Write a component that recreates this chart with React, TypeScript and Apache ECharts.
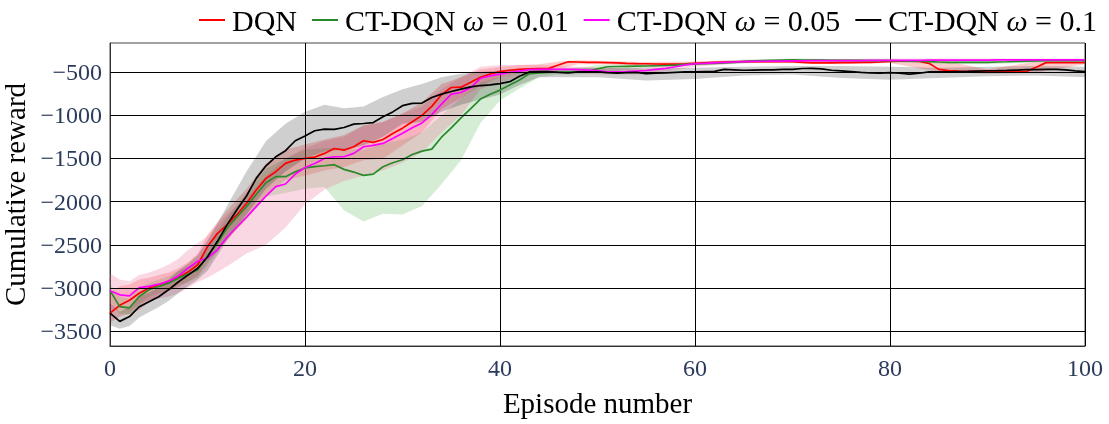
import React, { useEffect, useRef } from 'react';
import * as echarts from 'echarts';

// ---------- data ----------
const seriesNames = ['DQN', 'CT-DQN ω = 0.01', 'CT-DQN ω = 0.05', 'CT-DQN ω = 0.1'];
const xTicks = [0, 20, 40, 60, 80, 100];
const yTicks = [-3500, -3000, -2500, -2000, -1500, -1000, -500];

const dqn = [
  -3290, -3200, -3140, -3060, -3000, -2962, -2923, -2877, -2815, -2730,
  -2520, -2370, -2269, -2154, -2019, -1865, -1731, -1654, -1558, -1519,
  -1500, -1485, -1442, -1385, -1404, -1365, -1296, -1315, -1281, -1212,
  -1150, -1075, -1002, -898, -764, -680, -676, -619, -561, -523,
  -496, -480, -470, -465, -460, -458, -420, -382, -385, -388,
  -390, -393, -396, -400, -403, -405, -408, -410, -410, -406,
  -400, -395, -390, -385, -382, -380, -380, -380, -380, -380,
  -382, -390, -395, -395, -395, -392, -392, -390, -388, -385,
  -378, -376, -376, -378, -400, -470, -484, -490, -492, -494,
  -496, -498, -500, -500, -495, -446, -392, -392, -392, -392,
  -392,
];
const ctdqn001 = [
  -3030, -3214, -3228, -3098, -3020, -2982, -2943, -2885, -2839, -2789,
  -2630, -2481, -2308, -2181, -2058, -1915, -1781, -1711, -1711, -1654,
  -1610, -1596, -1585, -1573, -1627, -1658, -1696, -1681, -1596, -1550,
  -1515, -1454, -1416, -1393, -1255, -1147, -1032, -925, -814, -757,
  -710, -650, -593, -520, -510, -505, -502, -500, -498, -490,
  -465, -440, -437, -435, -433, -431, -428, -425, -420, -412,
  -407, -403, -400, -395, -388, -380, -372, -368, -365, -362,
  -361, -362, -363, -364, -365, -366, -366, -367, -368, -368,
  -370, -372, -374, -376, -380, -385, -388, -390, -390, -390,
  -388, -385, -382, -378, -375, -372, -370, -370, -370, -370,
  -370,
];
const ctdqn005 = [
  -3030, -3078, -3090, -2995, -2980, -2955, -2920, -2860, -2770, -2690,
  -2650, -2560, -2412, -2296, -2181, -2058, -1935, -1827, -1796, -1681,
  -1605, -1558, -1500, -1481, -1481, -1442, -1365, -1350, -1327, -1269,
  -1208, -1145, -1090, -994, -872, -757, -738, -680, -573, -546,
  -525, -505, -490, -472, -469, -469, -469, -469, -472, -478,
  -485, -498, -500, -497, -490, -483, -470, -458, -440, -418,
  -405, -400, -394, -390, -385, -380, -378, -376, -375, -374,
  -372, -371, -370, -370, -369, -369, -368, -368, -367, -367,
  -366, -366, -365, -365, -364, -364, -363, -363, -362, -362,
  -362, -361, -361, -361, -360, -360, -360, -360, -360, -360,
  -360,
];
const ctdqn01 = [
  -3290, -3385, -3330, -3216, -3158, -3100, -3020, -2930, -2850, -2770,
  -2640, -2462, -2269, -2096, -1935, -1731, -1585, -1481, -1411, -1296,
  -1240, -1180, -1162, -1165, -1142, -1104, -1096, -1085, -1019, -962,
  -890, -864, -860, -795, -757, -726, -699, -672, -657, -649,
  -635, -612, -550, -500, -496, -496, -505, -512, -500, -498,
  -500, -508, -515, -508, -505, -520, -515, -510, -505, -500,
  -500, -496, -493, -470, -475, -480, -478, -476, -475, -470,
  -469, -460, -458, -465, -480, -487, -495, -505, -512, -513,
  -508, -515, -525, -515, -500, -500, -498, -496, -494, -490,
  -486, -485, -482, -478, -474, -472, -470, -469, -475, -488,
  -496,
];

// shaded bands (upper / lower), sampled at bandEpisodes
const bandEpisodes = [0, 1, 2, 3, 4, 5, 6, 7, 8, 9, 10, 12, 14, 16, 18, 20, 22, 24, 26, 28, 30, 32, 34, 36, 38, 40, 42, 44, 46, 48, 50, 55, 60, 65, 70, 75, 80, 85, 90, 95, 100];
const dqnHi = [-3050, -2980, -2960, -2900, -2880, -2850, -2820, -2770, -2700, -2600, -2380, -2100, -1850, -1560, -1400, -1340, -1280, -1230, -1120, -1080, -980, -850, -640, -560, -470, -440, -420, -410, -380, -365, -370, -385, -380, -365, -365, -375, -360, -360, -470, -380, -375];
const dqnLo = [-3400, -3330, -3300, -3250, -3160, -3080, -3030, -2990, -2930, -2860, -2700, -2450, -2200, -1920, -1750, -1700, -1640, -1600, -1520, -1500, -1350, -1200, -930, -800, -660, -560, -520, -500, -470, -410, -410, -425, -420, -395, -400, -410, -395, -500, -520, -510, -410];
const ct001Hi = [-2950, -3100, -3120, -3000, -2940, -2900, -2860, -2800, -2750, -2700, -2520, -2180, -1900, -1620, -1500, -1400, -1380, -1380, -1400, -1330, -1280, -1200, -1000, -800, -620, -560, -500, -470, -470, -460, -420, -405, -390, -360, -345, -350, -355, -365, -370, -355, -355];
const ct001Lo = [-3150, -3300, -3300, -3200, -3100, -3060, -3020, -2970, -2930, -2880, -2740, -2430, -2200, -1940, -1900, -1850, -1830, -2100, -2230, -2140, -2150, -2050, -1800, -1520, -1090, -830, -690, -560, -530, -530, -510, -455, -425, -400, -380, -385, -390, -405, -410, -390, -385];
const ct005Hi = [-2830, -2900, -2920, -2850, -2820, -2780, -2730, -2660, -2560, -2480, -2400, -2150, -1950, -1700, -1500, -1380, -1300, -1250, -1120, -1080, -980, -900, -700, -560, -440, -420, -420, -420, -430, -440, -450, -450, -380, -360, -355, -350, -345, -345, -345, -345, -345];
const ct005Lo = [-3250, -3250, -3260, -3180, -3140, -3120, -3100, -3060, -3000, -2930, -2880, -2750, -2600, -2500, -2300, -2030, -1860, -1760, -1700, -1640, -1550, -1430, -1200, -1000, -700, -620, -560, -520, -510, -510, -530, -530, -440, -400, -390, -385, -380, -380, -375, -375, -375];
const ct01Hi = [-3170, -3270, -3220, -3100, -3050, -2990, -2900, -2800, -2720, -2620, -2450, -2050, -1650, -1300, -1100, -960, -880, -920, -900, -790, -700, -640, -560, -520, -500, -480, -460, -450, -460, -450, -450, -460, -450, -440, -430, -430, -440, -450, -440, -430, -440];
const ct01Lo = [-3430, -3470, -3440, -3340, -3280, -3220, -3150, -3060, -2980, -2900, -2800, -2450, -2150, -1850, -1650, -1500, -1420, -1400, -1350, -1250, -1100, -1080, -960, -880, -820, -760, -650, -560, -560, -560, -560, -600, -580, -540, -530, -570, -590, -570, -550, -540, -560];

// ---------- styling ----------
const FONT = '"Liberation Serif", "Times New Roman", Times, serif';
const TICK_COLOR = '#2b3b5c';
const lineColors = ['#ff0000', '#2a8a2a', '#ff00ff', '#000000'];
const bandColors = ['rgba(255,0,0,0.2)', 'rgba(0,150,0,0.17)', 'rgba(235,110,150,0.27)', 'rgba(0,0,0,0.19)'];

export default function App() {
  const ref = useRef<HTMLDivElement>(null);

  useEffect(() => {
    const chart = echarts.init(ref.current!, null, { renderer: 'svg' });

    const means = [dqn, ctdqn001, ctdqn005, ctdqn01];
    const highs = [dqnHi, ct001Hi, ct005Hi, ct01Hi];
    const lows = [dqnLo, ct001Lo, ct005Lo, ct01Lo];

    const bandSeries = highs.map((hi, k) => ({
      type: 'custom',
      name: seriesNames[k] + ' band',
      silent: true,
      z: 1,
      clip: true,
      data: [[bandEpisodes[0], hi[0]]],
      encode: { x: 0, y: 1 },
      renderItem: (_params: any, api: any) => {
        const lo = lows[k];
        const pts: number[][] = [];
        for (let i = 0; i < bandEpisodes.length; i++) pts.push(api.coord([bandEpisodes[i], hi[i]]));
        for (let i = bandEpisodes.length - 1; i >= 0; i--) pts.push(api.coord([bandEpisodes[i], lo[i]]));
        return { type: 'polygon', shape: { points: pts }, style: { fill: bandColors[k], stroke: 'none' } };
      },
    }));

    const lineSeries = means.map((arr, k) => ({
      type: 'line',
      name: seriesNames[k],
      data: arr.map((v, i) => [i, v]),
      symbol: 'none',
      showSymbol: false,
      z: 3,
      lineStyle: { color: lineColors[k], width: 1.7 },
      itemStyle: { color: lineColors[k] },
    }));

    const gridSeries = {
      type: 'line',
      name: '_grid',
      data: [[0, yTicks[yTicks.length - 1]]],
      symbol: 'none',
      lineStyle: { opacity: 0 },
      silent: true,
      z: 0,
      markLine: {
        silent: true,
        symbol: 'none',
        label: { show: false },
        emphasis: { disabled: true },
        lineStyle: { color: '#000', width: 1, type: 'solid' },
        data: yTicks.map((v) => ({ yAxis: v })),
      },
    };

    chart.setOption({
      animation: false,
      grid: {
        left: 110, right: 24, top: 43, bottom: 78,
        outerBoundsMode: 'none', containLabel: false,
        show: true, borderColor: '#444', borderWidth: 1, backgroundColor: 'transparent',
      },
      legend: {
        data: seriesNames,
        top: 0,
        right: 7,
        icon: 'rect',
        itemWidth: 26,
        itemHeight: 2,
        itemGap: 15,
        textStyle: {
          fontFamily: FONT,
          fontSize: 30,
          color: '#000',
          padding: [0, 0, 0, 2],
          rich: { w: { fontFamily: FONT, fontSize: 30, fontStyle: 'italic', color: '#000' } },
        },
        formatter: (n: string) => n.replace('ω', '{w|ω}'),
      },
      xAxis: {
        type: 'value',
        min: xTicks[0],
        max: xTicks[xTicks.length - 1],
        interval: 20,
        axisLine: { show: true, onZero: false, lineStyle: { color: '#333', width: 1 } },
        axisTick: { show: false },
        splitLine: { show: true, lineStyle: { color: '#000', width: 1 } },
        axisLabel: { fontFamily: FONT, fontSize: 24, color: TICK_COLOR, margin: 10 },
        name: 'Episode number',
        nameLocation: 'middle',
        nameGap: 42,
        nameTextStyle: { fontFamily: FONT, fontSize: 29, color: '#000' },
      },
      yAxis: {
        type: 'value',
        min: -3670,
        max: -165,
        axisLine: { show: true, onZero: false, lineStyle: { color: '#333', width: 1 } },
        axisTick: { show: false },
        splitLine: { show: false },
        axisLabel: {
          customValues: yTicks,
          formatter: (v: number) => String(v).replace('-', '\u2212'),
          fontFamily: FONT,
          fontSize: 24,
          color: TICK_COLOR,
          margin: 8,
        },
        name: 'Cumulative reward',
        nameLocation: 'middle',
        nameGap: 75,
        nameTextStyle: { fontFamily: FONT, fontSize: 29, color: '#000' },
      },
      series: [gridSeries, ...bandSeries, ...lineSeries],
    });

    return () => chart.dispose();
  }, []);

  return <div ref={ref} style={{ position: 'fixed', left: 0, top: 0, width: 1109, height: 424 }} />;
}
